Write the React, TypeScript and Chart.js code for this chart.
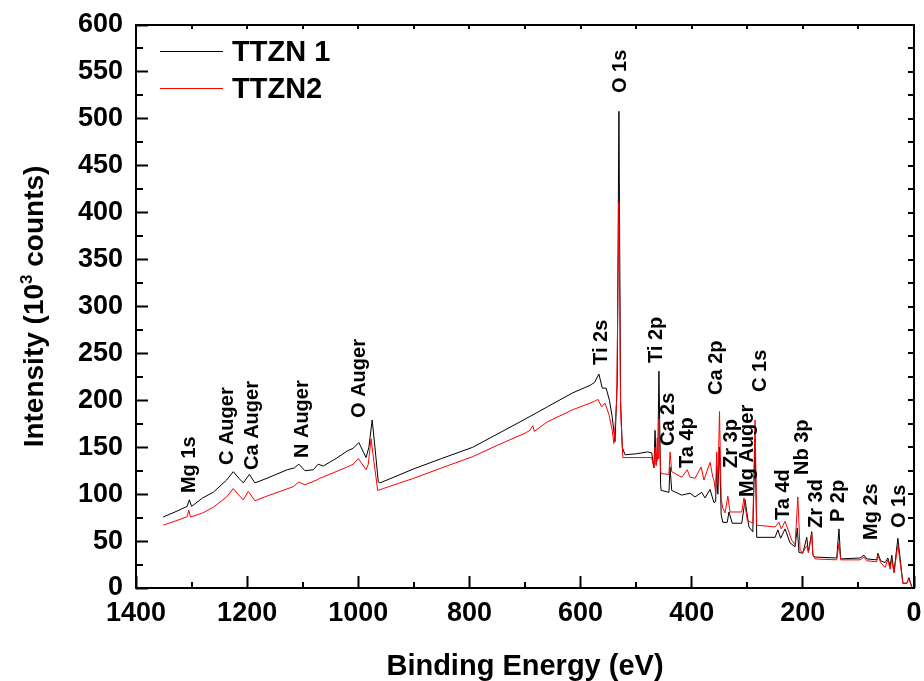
import React, { useEffect, useRef } from "react";
import { Chart, registerables } from "chart.js";

Chart.register(...registerables);

const seriesNames = ["TTZN 1", "TTZN2"];
const seriesColors = ["#000000", "#ff0000"];

const xTitle = "Binding Energy (eV)";
const yTitleParts = ["Intensity (10", "3", " counts)"];

// TTZN 1 (black)
const energy1 = [
  1351, 1326, 1308, 1304, 1300, 1280, 1261, 1237, 1225, 1215,
  1207, 1196, 1186, 1164, 1128, 1115, 1107, 1096, 1081, 1072,
  1063, 1040, 1020, 1009, 999, 986, 981, 975, 970, 964,
  961, 900, 850, 794, 750, 709, 660, 614, 583, 575,
  567, 561, 554, 548, 543, 538, 534, 531, 528, 525,
  520, 500, 480, 472, 468, 466, 464, 461, 459, 456,
  455, 441, 439, 436, 418, 403, 394, 382, 376, 367,
  360, 357, 355, 353, 350, 347, 344, 336, 333, 327,
  310, 304, 297, 290, 286, 283, 250, 245, 240, 232,
  223, 214, 210, 207, 200, 193, 190, 184, 182, 178,
  139, 135, 132, 97, 90, 85, 67, 65, 60, 52,
  47, 43, 40, 36, 29, 22, 20, 13, 9, 4,
];
const counts1 = [
  75.7, 82, 87, 94, 87, 96, 102, 115, 124, 117,
  112, 121, 112, 117, 126, 128, 132, 125, 126, 132,
  130, 138, 146, 149, 155, 139, 150, 179, 150, 113,
  112, 127, 138, 150, 164, 177, 193, 208, 216, 219,
  228, 213, 213, 200, 182, 156, 220, 508, 200, 150,
  142, 143, 145, 144, 128, 168, 132, 140, 231, 110,
  104, 102, 129, 104, 99, 101, 97, 102, 96, 105,
  91, 92, 130, 100, 150, 78, 70, 70, 81, 69,
  69, 94, 65, 60, 160, 54, 54, 62, 53, 63,
  48, 44, 64, 38, 37, 54, 38, 60, 35, 33,
  32, 63, 31, 32, 35, 31, 30, 37, 29, 27,
  32, 23, 35, 17, 53, 16, 5, 5, 11, 1,
];

// TTZN2 (red)
const energy2 = [
  1351, 1326, 1308, 1305, 1302, 1280, 1261, 1237, 1225, 1215,
  1207, 1198, 1186, 1164, 1117, 1107, 1096, 1075, 1069, 1040,
  1020, 1009, 1000, 986, 982, 977, 972, 965, 955, 900,
  850, 794, 750, 700, 691, 686, 683, 660, 614, 583,
  575, 569, 562, 556, 549, 543, 540, 535, 531, 528,
  524, 500, 480, 472, 468, 466, 464, 462, 460, 459,
  456, 455, 441, 439, 436, 418, 408, 403, 394, 383,
  378, 367, 362, 360, 357, 355, 353, 350, 347, 344,
  340, 335, 331, 310, 306, 300, 290, 286, 283, 250,
  243, 239, 232, 220, 214, 209, 205, 200, 193, 190,
  184, 182, 178, 139, 135, 132, 97, 90, 85, 67,
  65, 60, 52, 47, 43, 40, 36, 29, 22, 20,
  13, 9, 4,
];
const counts2 = [
  67, 72, 76, 83, 75.6, 80, 86, 97, 106, 99,
  94, 103, 93, 98, 108, 113, 110, 115, 117, 124,
  129, 132, 138, 126, 132, 159, 135, 104, 106, 117,
  128, 140, 152, 165, 168, 173, 167, 177, 190, 197,
  199, 201, 193, 197, 185, 168, 154, 200, 411, 190,
  139, 139, 139, 139, 128, 150, 130, 160, 138, 180,
  125, 122, 121, 145, 124, 118, 126, 118, 117, 129,
  115, 134, 118, 115, 102, 145, 110, 188, 95, 85,
  80, 98, 81, 81, 96, 72, 69, 179, 67, 65,
  70, 63, 71, 51, 46, 97, 40, 38, 45, 38,
  58, 35, 31, 30, 48, 30, 30, 33, 29, 28,
  35, 27, 22, 30, 20, 30, 16, 46, 14, 5,
  5, 10, 1,
];

// Peak labels (text starts at energy / level, reading upward)
const peakNames = [
  "O 1s", "Ti 2s", "Ti 2p", "Ca 2p", "C 1s", "Ca 2s", "Ta 4p", "Zr 3p", "Mg Auger", "Ta 4d",
  "Nb 3p", "Zr 3d", "P 2p", "Mg 2s", "O 1s", "Mg 1s", "C Auger", "Ca Auger", "N Auger", "O Auger",
];
const peakEnergies = [
  529, 563, 464, 356, 277, 441, 407, 328, 300.5, 234,
  201.5, 174.6, 135, 77.4, 27, 1303, 1236, 1189.5, 1101, 997,
];
const peakLevels = [
  527.5, 237.7, 239.8, 205.7, 208.9, 151.3, 127.9, 127.9, 97, 72.5,
  120.4, 63.9, 70.3, 51.2, 63.9, 101.2, 131, 125.8, 138.5, 181.2,
];

const FONT = '"Liberation Sans", Arial, Helvetica, sans-serif';

const decorPlugin = {
  id: "decor",
  afterDraw(chart: any) {
    const { ctx, chartArea: a, scales } = chart;
    const x = scales.x;
    const y = scales.y;
    ctx.save();
    ctx.fillStyle = "#000000";
    const L = Math.round(a.left), R = Math.round(a.right);
    const T = Math.round(a.top), B = Math.round(a.bottom);
    // frame
    ctx.fillRect(L - 1, T - 1, R - L + 2, 2);
    ctx.fillRect(L - 1, B - 1, R - L + 2, 2);
    ctx.fillRect(L - 1, T - 1, 2, B - T + 2);
    ctx.fillRect(R - 1, T - 1, 2, B - T + 2);

    // minor inward ticks and opposite-side ticks
    for (let v = 0; v <= 600; v += 25) {
      const py = Math.round(y.getPixelForValue(v));
      if (v % 50 !== 0) ctx.fillRect(L, py - 1, 7, 2);
      ctx.fillRect(R - 6, py - 1, 6, 2);
    }
    for (let v = 0; v <= 1400; v += 100) {
      const px = Math.round(x.getPixelForValue(v));
      if (v % 200 !== 0) ctx.fillRect(px - 1, B - 6, 2, 6);
      ctx.fillRect(px - 1, T, 2, 4);
    }

    // peak labels
    ctx.fillStyle = "#000";
    ctx.font = `bold 20px ${FONT}`;
    ctx.textAlign = "left";
    ctx.textBaseline = "middle";
    peakNames.forEach((name, i) => {
      const px = x.getPixelForValue(peakEnergies[i]);
      const py = y.getPixelForValue(peakLevels[i]);
      ctx.save();
      ctx.translate(px, py);
      ctx.rotate(-Math.PI / 2);
      ctx.fillText(name, 0, 0);
      ctx.restore();
    });

    // legend
    chart.data.datasets.forEach((ds: any, i: number) => {
      const ly = 51 + i * 37;
      ctx.fillStyle = ds.borderColor;
      ctx.fillRect(160, ly, 63, 1);
      ctx.fillStyle = "#000";
      ctx.font = `bold 29px ${FONT}`;
      ctx.textAlign = "left";
      ctx.textBaseline = "alphabetic";
      ctx.fillText(ds.label, 232, ly + 10);
    });

    // x title
    ctx.fillStyle = "#000";
    ctx.font = `bold 29px ${FONT}`;
    ctx.textAlign = "center";
    ctx.textBaseline = "alphabetic";
    ctx.fillText(xTitle, (a.left + a.right) / 2, 675);

    // y title with superscript
    const big = `bold 28px ${FONT}`;
    const small = `bold 17px ${FONT}`;
    ctx.font = big;
    const w1 = ctx.measureText(yTitleParts[0]).width;
    const w3 = ctx.measureText(yTitleParts[2]).width;
    ctx.font = small;
    const w2 = ctx.measureText(yTitleParts[1]).width;
    const total = w1 + w2 + w3;
    ctx.save();
    ctx.translate(43, (a.top + a.bottom) / 2);
    ctx.rotate(-Math.PI / 2);
    ctx.textAlign = "left";
    let sx = -total / 2;
    ctx.font = big;
    ctx.fillText(yTitleParts[0], sx, 0);
    sx += w1;
    ctx.font = small;
    ctx.fillText(yTitleParts[1], sx, -11);
    sx += w2;
    ctx.font = big;
    ctx.fillText(yTitleParts[2], sx, 0);
    ctx.restore();

    ctx.restore();
  },
};

export default function App() {
  const ref = useRef<HTMLCanvasElement>(null);
  useEffect(() => {
    const canvas = ref.current;
    if (!canvas) return;
    const chart = new Chart(canvas, {
      type: "line",
      data: {
        datasets: [
          {
            label: seriesNames[0],
            data: energy1.map((e, i) => ({ x: e, y: counts1[i] })),
            borderColor: seriesColors[0],
            borderWidth: 1,
            pointRadius: 0,
            tension: 0,
            order: 1,
          },
          {
            label: seriesNames[1],
            data: energy2.map((e, i) => ({ x: e, y: counts2[i] })),
            borderColor: seriesColors[1],
            borderWidth: 1,
            pointRadius: 0,
            tension: 0,
            order: 0,
          },
        ],
      },
      options: {
        animation: false,
        responsive: false,
        devicePixelRatio: 1,
        layout: { padding: { top: 25, right: 10, left: 0, bottom: 0 } },
        plugins: { legend: { display: false }, tooltip: { enabled: false } },
        scales: {
          x: {
            type: "linear",
            reverse: true,
            min: 0,
            max: 1400,
            grid: {
              display: true,
              drawOnChartArea: false,
              drawTicks: true,
              tickLength: -12,
              tickWidth: 2,
              tickColor: "#000000",
            },
            border: { display: false },
            ticks: {
              stepSize: 200,
              padding: 21,
              color: "#000",
              maxRotation: 0,
              autoSkip: false,
              font: { family: FONT, size: 27, weight: "bold" },
              callback: (v: any) => String(v),
            },
            afterFit: (s: any) => {
              s.height = 93;
              s.paddingLeft = 0;
              s.paddingRight = 0;
            },
          },
          y: {
            min: 0,
            max: 600,
            grid: {
              display: true,
              drawOnChartArea: false,
              drawTicks: true,
              tickLength: -12,
              tickWidth: 2,
              tickColor: "#000000",
            },
            border: { display: false },
            ticks: {
              stepSize: 50,
              padding: 25,
              color: "#000",
              font: { family: FONT, size: 27, weight: "bold" },
              callback: (v: any) => String(v),
            },
            afterFit: (s: any) => {
              s.width = 136;
              s.paddingTop = 0;
              s.paddingBottom = 0;
            },
          },
        },
      },
      plugins: [decorPlugin],
    });
    return () => chart.destroy();
  }, []);
  return (
    <div style={{ position: "fixed", left: 0, top: 0, width: 924, height: 681, background: "#fff" }}>
      <canvas ref={ref} width={924} height={681} style={{ display: "block" }} />
    </div>
  );
}
